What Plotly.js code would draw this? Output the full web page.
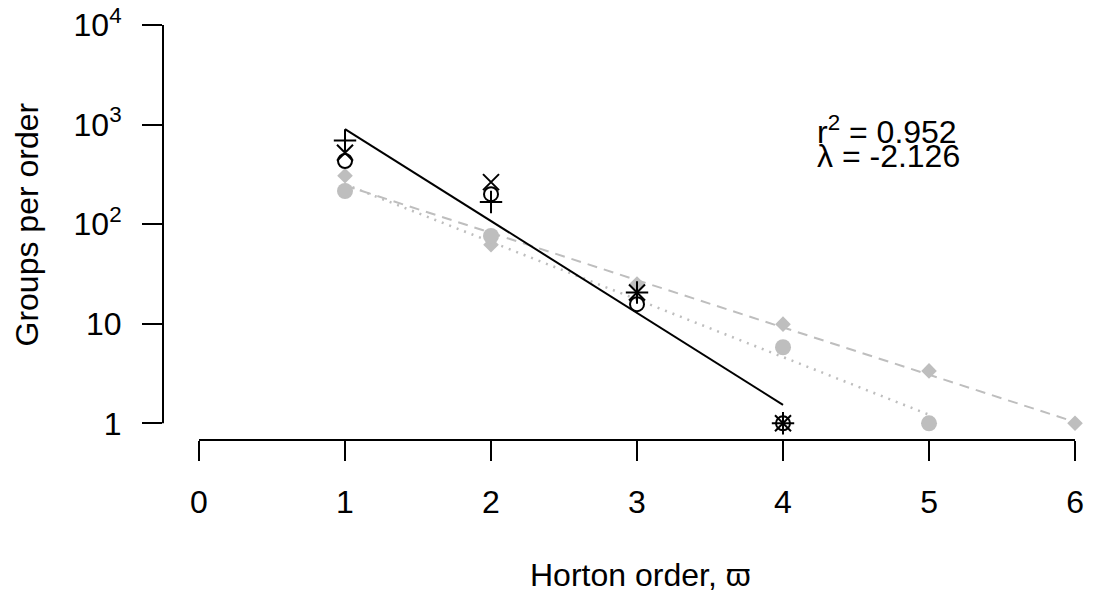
<!DOCTYPE html>
<html>
<head>
<meta charset="utf-8">
<script src="https://cdn.plot.ly/plotly-3.0.1.min.js"></script>
<style>html,body{margin:0;padding:0;background:#fff;}#chart{width:1094px;height:595px;}</style>
</head>
<body>
<div id="chart"></div>
<script>
// Horton order
var orders = [1, 2, 3, 4, 5, 6];
var ordersBlack = [1, 2, 3, 4];
// black open symbols
var circleVals = [430, 200, 15.7, 1];
var plusVals = [690, 167, 20.6, 1];
var crossVals = [520, 264, 20.6, 1];
// gray filled symbols
var grayDiamondVals = [306, 62, 25, 9.9, 3.36, 1];
var grayCircleX = [1, 2, 4, 5];
var grayCircleVals = [215, 76, 5.8, 1];
// fitted lines (end points)
var fitBlackX = [1, 4], fitBlackY = [901, 1.53];
var fitDashX = [1, 6], fitDashY = [244, 1.03];
var fitDotX = [1, 5], fitDotY = [251, 1.22];
// ticks
var xTicks = [0, 1, 2, 3, 4, 5, 6];
var yTickVals = [1, 10, 100, 1000, 10000];
var yTickText = ['1', '10', '10<sup>2</sup>', '10<sup>3</sup>', '10<sup>4</sup>'];
var r2Text = 'r<sup>2</sup> = 0.952';
var lambdaText = '\u03bb = -2.126';

var GRAY = '#bebebe';
var FONT = 'Liberation Sans, Arial, Helvetica, sans-serif';

var traces = [
  {x: fitDashX, y: fitDashY, mode: 'lines', line: {color: GRAY, width: 2, dash: '10px,7px'}},
  {x: fitDotX, y: fitDotY, mode: 'lines', line: {color: GRAY, width: 2.5, dash: '2px,6px'}},
  {x: orders, y: grayDiamondVals, mode: 'markers', marker: {symbol: 'diamond', size: 12, color: GRAY}},
  {x: grayCircleX, y: grayCircleVals, mode: 'markers', marker: {symbol: 'circle', size: 16, color: GRAY}},
  {x: fitBlackX, y: fitBlackY, mode: 'lines', line: {color: '#000', width: 2}},
  {x: ordersBlack, y: circleVals, mode: 'markers', marker: {symbol: 'circle-open', size: 14, color: '#000', line: {width: 2, color: '#000'}}},
  {x: ordersBlack, y: plusVals, mode: 'markers', marker: {symbol: 'cross-thin-open', size: 16, color: '#000', line: {width: 2, color: '#000'}}},
  {x: ordersBlack, y: crossVals, mode: 'markers', marker: {symbol: 'x-thin-open', size: 16, color: '#000', line: {width: 2, color: '#000'}}}
];

var layout = {
  width: 1094, height: 595,
  margin: {l: 163, r: 0, t: 9, b: 155, pad: 0},
  paper_bgcolor: '#fff', plot_bgcolor: '#fff',
  showlegend: false,
  font: {family: FONT, size: 32, color: '#000'},
  xaxis: {
    range: [-0.2466, 6.130], showgrid: false, zeroline: false, showline: false,
    tickvals: xTicks, ticktext: xTicks.map(String),
    ticks: 'outside', ticklen: 20, tickwidth: 2, tickcolor: '#000',
    ticklabelstandoff: 14,
    tickfont: {family: FONT, size: 32, color: '#000'}
  },
  yaxis: {
    type: 'log', range: [-0.1677, 4.16], showgrid: false, zeroline: false, showline: false,
    tickvals: yTickVals, ticktext: yTickText,
    ticks: 'outside', ticklen: 20, tickwidth: 2, tickcolor: '#000',
    ticklabelstandoff: 14,
    tickfont: {family: FONT, size: 32, color: '#000'}
  },
  shapes: [
    {type: 'line', xref: 'x', yref: 'paper', x0: xTicks[0], x1: xTicks[xTicks.length - 1], y0: 0, y1: 0, line: {color: '#000', width: 2}},
    {type: 'line', xref: 'paper', yref: 'y', x0: 0, x1: 0, y0: yTickVals[0], y1: yTickVals[yTickVals.length - 1], line: {color: '#000', width: 2}}
  ],
  annotations: [
    {xref: 'paper', yref: 'paper', x: -0.1461, y: 0.5, text: 'Groups per order', textangle: -90, showarrow: false, xanchor: 'center', yanchor: 'middle', font: {family: FONT, size: 32, color: '#000'}},
    {xref: 'paper', yref: 'paper', x: 0.5124, y: -0.3132, text: 'Horton order, \u03d6', showarrow: false, xanchor: 'center', yanchor: 'middle', font: {family: FONT, size: 32, color: '#000'}},
    {xref: 'paper', yref: 'paper', x: 0.7003, y: 0.7193, text: r2Text, showarrow: false, xanchor: 'left', yanchor: 'middle', font: {family: FONT, size: 32, color: '#000'}},
    {xref: 'paper', yref: 'paper', x: 0.7003, y: 0.6593, text: lambdaText, showarrow: false, xanchor: 'left', yanchor: 'middle', font: {family: FONT, size: 32, color: '#000'}}
  ]
};

Plotly.newPlot('chart', traces, layout, {displayModeBar: false, staticPlot: true});
</script>
</body>
</html>
